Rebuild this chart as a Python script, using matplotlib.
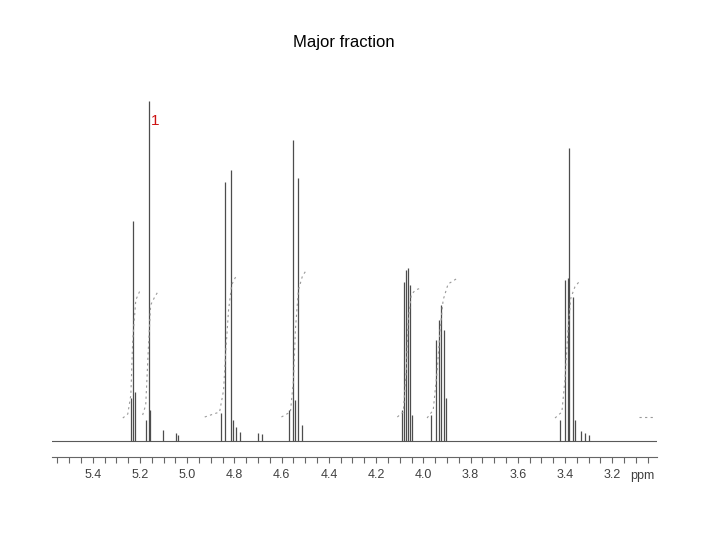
import numpy as np
import matplotlib
matplotlib.use("Agg")
import matplotlib.pyplot as plt
from matplotlib.ticker import MultipleLocator

plt.rcParams['font.family'] = ['Liberation Sans', 'DejaVu Sans']

# peak sticks: chemical shift (ppm) and height above baseline
peak_ppm = [5.239, 5.231, 5.222, 5.176, 5.163, 5.159, 5.104, 5.049, 5.040,
            4.855, 4.842, 4.816, 4.808, 4.795, 4.778, 4.702, 4.685,
            4.567, 4.550, 4.542, 4.529, 4.516,
            4.089, 4.081, 4.072, 4.064, 4.055, 4.047,
            3.967, 3.945, 3.933, 3.924, 3.912, 3.903,
            3.421, 3.400, 3.387, 3.383, 3.366, 3.358, 3.332, 3.315, 3.298]
peak_height = [43, 220, 49, 21, 340, 31, 11, 8, 6,
               28, 259, 271, 21, 14, 9, 8, 7,
               31, 301, 41, 263, 16,
               31, 159, 171, 173, 156, 26,
               26, 101, 121, 136, 111, 43,
               21, 161, 163, 293, 144, 21, 10, 8, 6]

# integral traces
integrals = [
    ([5.273, 5.252, 5.239, 5.231, 5.218, 5.201], [23, 27, 46, 101, 141, 150]),
    ([5.189, 5.176, 5.163, 5.155, 5.138, 5.125], [26, 36, 101, 136, 144, 149]),
    ([4.926, 4.863, 4.846, 4.838, 4.825, 4.812, 4.791], [24, 29, 51, 86, 131, 156, 166]),
    ([4.601, 4.563, 4.550, 4.542, 4.529, 4.512, 4.495], [24, 29, 61, 111, 151, 165, 171]),
    ([4.110, 4.085, 4.072, 4.064, 4.051, 4.034, 4.009], [24, 29, 71, 121, 146, 151, 153]),
    ([3.984, 3.958, 3.941, 3.929, 3.916, 3.895, 3.861], [23, 31, 71, 111, 141, 157, 162]),
    ([3.442, 3.413, 3.400, 3.387, 3.375, 3.358, 3.341], [23, 29, 61, 111, 143, 154, 159]),
    ([3.087, 3.019], [24, 24]),
]

tick_vals = [5.4, 5.2, 5.0, 4.8, 4.6, 4.4, 4.2, 4.0, 3.8, 3.6, 3.4, 3.2]
baseline_ppm = [5.573, 3.010]
baseline_val = [0, 0]

fig = plt.figure(figsize=(7.2, 5.4), dpi=100)
ax = fig.add_axes([52/720, 83/540, 605/720, 367/540])

ax.plot(baseline_ppm, baseline_val, color='0.35', lw=0.8)
ax.vlines(peak_ppm, 0, peak_height, color='0.3', lw=0.9)
for xs, ys in integrals:
    ax.plot(xs, ys, color='0.6', lw=0.8, linestyle=(0, (2, 3)))

ax.set_xlim(5.573, 3.010)
ax.set_ylim(-16, 351)

for s in ['top', 'left', 'right']:
    ax.spines[s].set_visible(False)
ax.spines['bottom'].set_color('0.4')
ax.spines['bottom'].set_linewidth(0.8)
ax.set_yticks([])
ax.set_xticks(tick_vals)
ax.set_xticklabels([f'{v:.1f}' for v in tick_vals])
ax.xaxis.set_minor_locator(MultipleLocator(0.05))
ax.tick_params(axis='x', which='both', direction='out', color='0.4',
               length=4, width=0.8, labelsize=9, labelcolor='0.25', pad=5)

ax.annotate('ppm', xy=(3.073, 0), xycoords=('data', 'axes fraction'),
            xytext=(0, -9), textcoords='offset points',
            ha='center', va='top', fontsize=9, color='0.25')

ax.text(5.138, 320, '1', color='#cc1111', fontsize=11, ha='center', va='center')

fig.text(344/720, 1 - 43/540, 'Major fraction', ha='center', va='center',
         fontsize=12, color='black')

fig.savefig('out.png', dpi=100)
